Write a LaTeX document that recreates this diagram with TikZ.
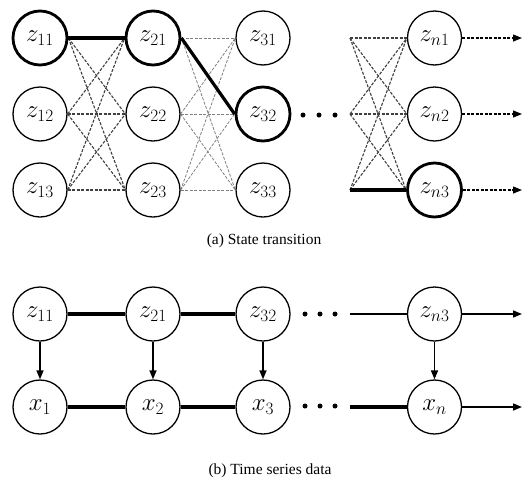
\documentclass[tikz,border=0pt]{standalone}
\usepackage{fontspec}
\setmainfont{Liberation Serif}
\usetikzlibrary{arrows.meta}
\tikzset{
  st/.style={circle,draw,line width=1.3pt,minimum size=54pt,inner sep=0pt,font=\fontsize{23}{26}\selectfont},
  bold/.style={line width=2.8pt},
  dk/.style={dashed,dash pattern=on 3pt off 1.5pt,line width=1.1pt,draw=black!75},
  lt/.style={dashed,dash pattern=on 3pt off 1.5pt,line width=0.8pt,draw=black!50},
  thk/.style={line width=3.2pt},
  thn/.style={line width=1.6pt},
  tip/.style={-{Triangle[length=9pt,width=7pt]}},
  captxt/.style={font=\fontsize{15.5}{18}\selectfont},
  dot/.style={circle,fill,inner sep=0pt,minimum size=5pt}
}
\begin{document}
\begin{tikzpicture}[x=1pt,y=-1pt]
\useasboundingbox (0,0) rectangle (527,485);
% top panel nodes
\node[st,bold] (z11) at (40,38) {$z_{11}$};
\node[st] (z12) at (40,114) {$z_{12}$};
\node[st] (z13) at (40,190) {$z_{13}$};
\node[st,bold] (z21) at (153,38) {$z_{21}$};
\node[st] (z22) at (153,114) {$z_{22}$};
\node[st] (z23) at (153,190) {$z_{23}$};
\node[st] (z31) at (263,38) {$z_{31}$};
\node[st,bold] (z32) at (263,114) {$z_{32}$};
\node[st] (z33) at (263,190) {$z_{33}$};
\node[st] (zn1) at (434.5,38) {$z_{n1}$};
\node[st] (zn2) at (434.5,114) {$z_{n2}$};
\node[st,bold] (zn3) at (434.5,190) {$z_{n3}$};
\node[dot] (d1) at (303,115) {};
\node[dot] (d2) at (319,115) {};
\node[dot] (d3) at (335,115) {};
\coordinate (s1) at (350,38);
\coordinate (s2) at (350,114);
\coordinate (s3) at (350,190);
\coordinate (e1) at (522,38);
\coordinate (e2) at (522,114);
\coordinate (e3) at (522,190);
% col1 -> col2
\foreach \a in {1,2,3}{\foreach \b in {1,2,3}{
  \draw[dk] (z1\a.east) -- (z2\b.west);}}
% col2 -> col3
\foreach \a in {1,2,3}{\foreach \b in {1,2,3}{
  \draw[lt] (z2\a.east) -- (z3\b.west);}}
% dots -> coln
\foreach \a in {1,2,3}{\foreach \b in {1,2,3}{
  \draw[dk] (s\a) -- (zn\b.west);}}
\draw[thk] (z11.east) -- (z21.west);
\draw[thk] (z21.east) -- (z32.west);
\draw[thk] (s3) -- (zn3.west);
\draw[dk,draw=black,tip] (zn1.east) -- (e1);
\draw[dk,draw=black,tip] (zn2.east) -- (e2);
\draw[dk,draw=black,tip] (zn3.east) -- (e3);
\node[captxt] (capa) at (264,241) {(a) State transition};
% bottom panel
\node[st] (b1) at (40,314) {$z_{11}$};
\node[st] (b2) at (153,314) {$z_{21}$};
\node[st] (b3) at (263,314) {$z_{32}$};
\node[st] (bn) at (434.5,314) {$z_{n3}$};
\node[st] (x1) at (40,407) {$x_1$};
\node[st] (x2) at (153,407) {$x_2$};
\node[st] (x3) at (263,407) {$x_3$};
\node[st] (xn) at (434.5,407) {$x_n$};
\node[dot] (f1) at (305,314) {};
\node[dot] (f2) at (320,314) {};
\node[dot] (f3) at (335,314) {};
\node[dot] (g1) at (305,406) {};
\node[dot] (g2) at (320,406) {};
\node[dot] (g3) at (335,406) {};
\coordinate (t1) at (350,314);
\coordinate (t2) at (350,407);
\coordinate (u1) at (522,314);
\coordinate (u2) at (522,407);
\draw[thk] (b1) -- (b2);
\draw[thk] (b2) -- (b3);
\draw[thn] (t1) -- (bn);
\draw[thn,tip] (bn) -- (u1);
\draw[thk] (x1) -- (x2);
\draw[thk] (x2) -- (x3);
\draw[thk] (t2) -- (xn);
\draw[thn,tip] (xn) -- (u2);
\foreach \n/\m in {b1/x1,b2/x2,b3/x3,bn/xn}{
  \draw[thn,tip] (\n) -- (\m);}
\node[captxt] (capb) at (270,471) {(b) Time series data};
\end{tikzpicture}
\end{document}
